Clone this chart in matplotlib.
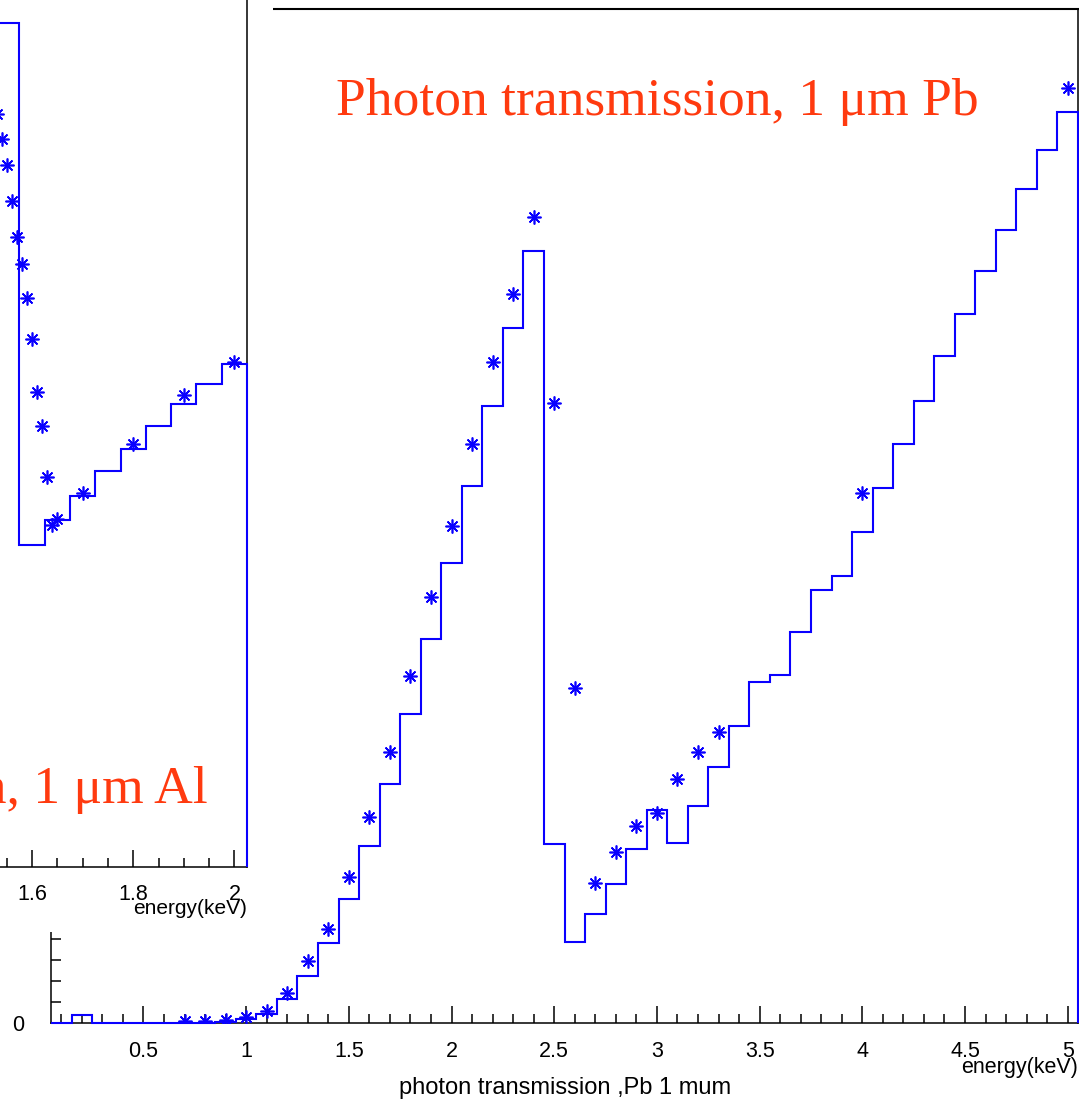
import numpy as np
import matplotlib.pyplot as plt
from matplotlib.patches import Rectangle
from matplotlib.ticker import MultipleLocator, FixedLocator, FuncFormatter

W, H = 1079, 1102
DPI = 100

BLUE = "#0a00ff"
RED = "#ff3a0f"
SANS = "Liberation Sans"
SERIF = "Liberation Serif"

# ---- Pb 1 um : histogram, bins 0.1 keV wide (0.05 .. 5.05 keV)
pb_edges = np.round(np.arange(0.05, 5.06, 0.1), 3)
pb_hist = [0.0, 0.0038, 0.0, 0.0, 0.0, 0.0, 0.0, 0.0, 0.0005, 0.002,
           0.0043, 0.0114, 0.0224, 0.038, 0.059, 0.0843, 0.1138, 0.1471, 0.1829, 0.219,
           0.2557, 0.2938, 0.331, 0.3676, 0.0852, 0.0386, 0.0519, 0.0662, 0.0829, 0.1014,
           0.0857, 0.1033, 0.1219, 0.1414, 0.1624, 0.1657, 0.1862, 0.2062, 0.2129, 0.2338,
           0.2548, 0.2757, 0.2962, 0.3176, 0.3376, 0.3581, 0.3776, 0.3971, 0.4157, 0.4338]

# Pb 1 um : reference points (stars)
pb_pts_e = [0.7, 0.8, 0.9, 1.0, 1.1, 1.2, 1.3, 1.4, 1.5, 1.6, 1.7, 1.8, 1.9, 2.0,
            2.1, 2.2, 2.3, 2.4, 2.5, 2.6, 2.7, 2.8, 2.9, 3.0, 3.1, 3.2, 3.3, 4.0, 5.0]
pb_pts_t = [0.0008, 0.0008, 0.0012, 0.0029, 0.0057, 0.0143, 0.0295, 0.0448, 0.0695,
            0.0981, 0.129, 0.1652, 0.2029, 0.2367, 0.2757, 0.3148, 0.3471, 0.3838,
            0.2952, 0.1595, 0.0667, 0.0814, 0.0938, 0.1, 0.1162, 0.129, 0.1386,
            0.2524, 0.4452]

# ---- Al 1 um (inset, only the visible part): bins 0.05 keV wide
al_edges = np.round(np.arange(1.525, 2.03, 0.05), 3)
al_hist = [0.8913, 0.340, 0.3664, 0.3918, 0.4182, 0.4414, 0.4657, 0.4889, 0.51, 0.5311]

al_pts_e = [1.53, 1.54, 1.55, 1.56, 1.57, 1.58, 1.59, 1.60, 1.61, 1.62, 1.63, 1.64,
            1.65, 1.70, 1.80, 1.90, 2.00]
al_pts_t = [0.7951, 0.7688, 0.7413, 0.7033, 0.6653, 0.6367, 0.6008, 0.5575, 0.5016,
            0.4657, 0.4118, 0.3611, 0.3675, 0.3949, 0.4467, 0.4984, 0.5332]
al_ticks = [1.6, 1.8, 2.0]

STAR = (8, 2, 0)
TICK_FS = 15.5


def fx(px):
    return px / W


def fy(py):
    return 1 - py / H


def style_bottom(ax, major, minor, pad):
    ax.xaxis.set_major_locator(major)
    ax.xaxis.set_minor_locator(MultipleLocator(minor))
    ax.xaxis.set_major_formatter(FuncFormatter(lambda v, p: f"{v:g}"))
    ax.tick_params(axis="x", which="major", direction="in", length=12, width=1.1,
                   pad=pad, labelsize=TICK_FS, bottom=True, top=False)
    ax.tick_params(axis="x", which="minor", direction="in", length=6.5, width=1.1,
                   bottom=True, top=False)
    for lab in ax.get_xticklabels():
        lab.set_fontfamily(SANS)


fig = plt.figure(figsize=(W / DPI, H / DPI), dpi=DPI)

# ---------------- main plot (Pb)
ax = fig.add_axes([fx(51), fy(1023), fx(1078 - 51), (1023 - 9) / H])
ax.set_xlim(0.05, 5.05)
ax.set_ylim(0, 1014 / 2100)
ax.stairs(pb_hist, pb_edges, baseline=0, color=BLUE, lw=1.5, zorder=3, clip_on=False)
ax.plot(pb_pts_e, pb_pts_t, ls="none", marker=STAR, ms=10, mew=1.2, color=BLUE, zorder=4)
style_bottom(ax, MultipleLocator(0.5), 0.1, 13)
# y axis: only the lowest part is visible below the inset, only "0" is labelled
ax.set_yticks([0.0, 0.01, 0.02, 0.03, 0.04])
ax.set_yticklabels(["0", "", "", "", ""])
ax.tick_params(axis="y", which="both", direction="in", length=7, width=1.1, pad=19,
               labelsize=TICK_FS, left=True, right=False)
for lab in ax.get_yticklabels():
    lab.set_fontfamily(SANS)
for s in ax.spines.values():
    s.set_linewidth(1.1)
ax.spines["top"].set_linewidth(1.5)

fig.text(fx(336), fy(115), "Photon transmission, 1 \u03bcm Pb", color=RED,
         family=SERIF, fontsize=38.5, ha="left", va="baseline")
fig.text(fx(1078), fy(1068), "energy(keV)", family=SANS, fontsize=15.5,
         ha="right", va="center")
fig.text(fx(565), fy(1088), "photon transmission ,Pb 1 mum", family=SANS,
         fontsize=17, ha="center", va="center")

# ---------------- inset pad (Al), covers the upper left of the main plot
fig.add_artist(Rectangle((-0.01, fy(932)), fx(273) + 0.01, 1.02 - fy(932),
                         transform=fig.transFigure, facecolor="white",
                         edgecolor="none", zorder=1))

px_per_kev = 506
al_left = 1.0
ax2 = fig.add_axes([fx(32 - (1.6 - al_left) * px_per_kev), fy(867),
                    fx((2.025 - al_left) * px_per_kev), 947 / H])
ax2.set_zorder(2)
ax2.set_xlim(al_left, 2.025)
ax2.set_ylim(0, 1.0)
ax2.stairs(al_hist, al_edges, baseline=0, color=BLUE, lw=1.5, zorder=3, clip_on=False)
ax2.plot(al_pts_e, al_pts_t, ls="none", marker=STAR, ms=10, mew=1.2, color=BLUE,
         zorder=4)
style_bottom(ax2, FixedLocator(al_ticks), 0.05, 12)
ax2.set_yticks([])
for s in ax2.spines.values():
    s.set_linewidth(1.1)

fig.text(fx(208), fy(803), "Photon transmission, 1 \u03bcm Al", color=RED,
         family=SERIF, fontsize=38.5, ha="right", va="baseline", zorder=5)
fig.text(fx(247), fy(908), "energy(keV)", family=SANS, fontsize=15,
         ha="right", va="center", zorder=5)

fig.savefig("out.png", dpi=DPI)
